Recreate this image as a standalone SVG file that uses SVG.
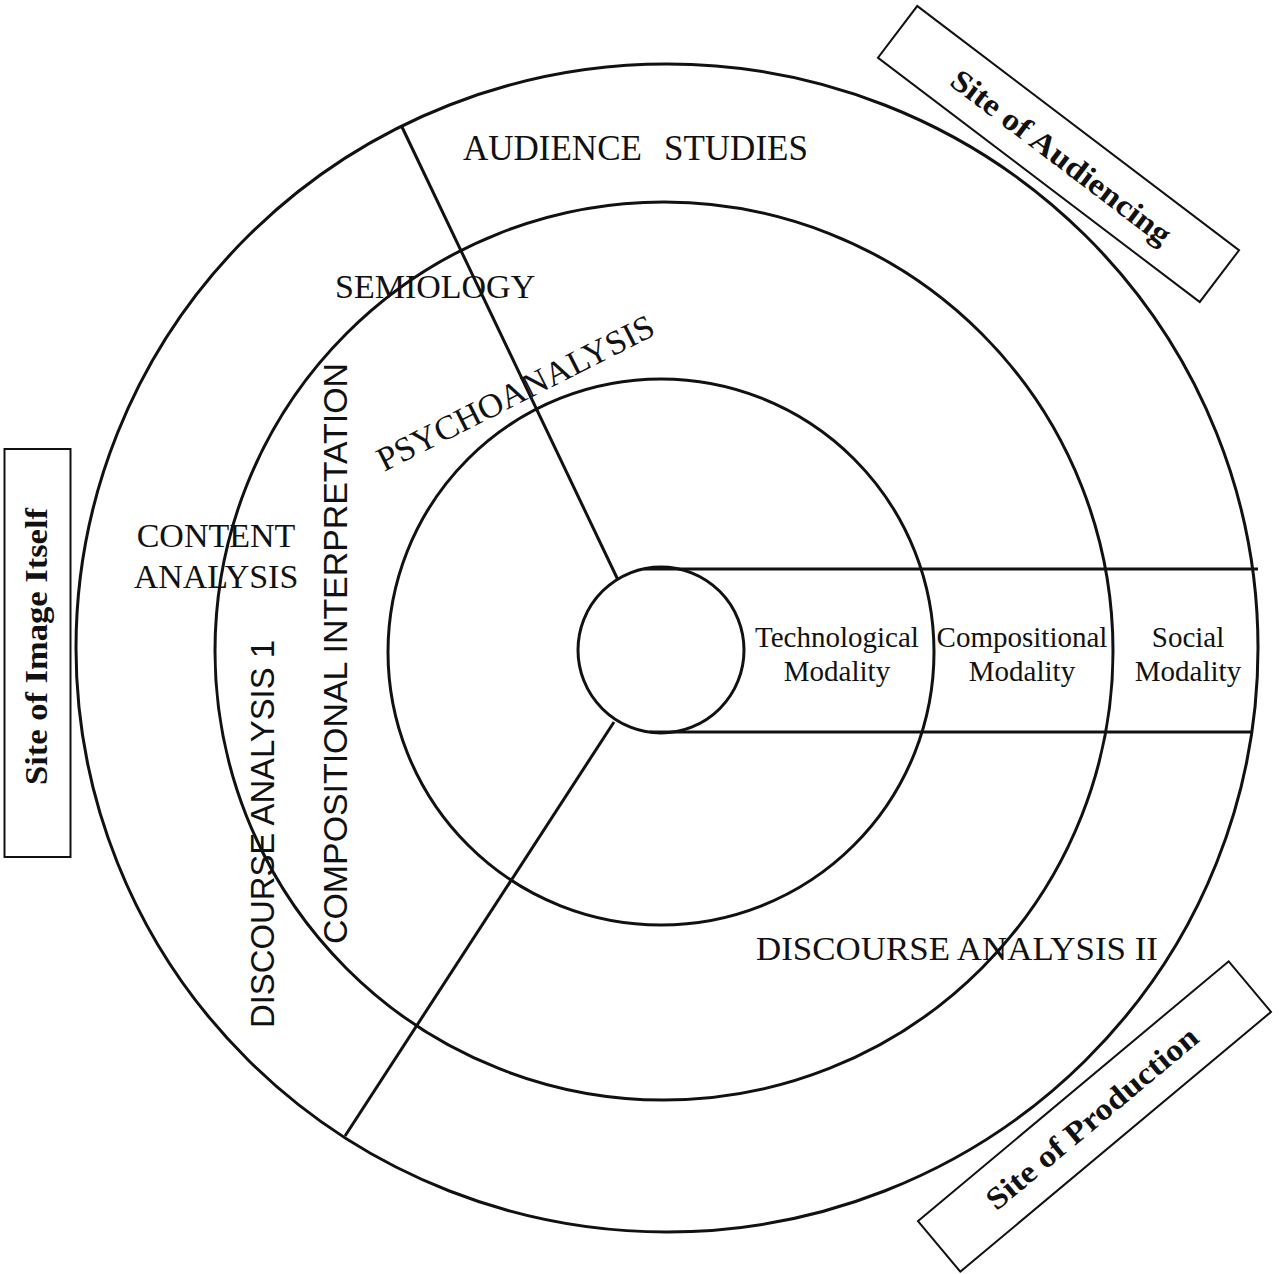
<svg xmlns="http://www.w3.org/2000/svg" width="1280" height="1274" viewBox="0 0 1280 1274">
<style>
.ln{fill:none;stroke:#111;stroke-width:3}
.bx{fill:none;stroke:#111;stroke-width:2}
.serif{font-family:"Liberation Serif","Times New Roman",serif;fill:#111}
.sans{font-family:"Liberation Sans",Arial,sans-serif;fill:#111}
.big{font-size:34px}
.mod{font-size:29px}
.site{font-family:"Liberation Serif","Times New Roman",serif;font-weight:bold;font-size:31px;fill:#111}
</style>
<rect width="1280" height="1274" fill="#fff"/>
<g id="rings">
<ellipse id="ring-outer" class="ln" cx="667" cy="648" rx="591" ry="584"/>
<circle id="ring-2" class="ln" cx="664" cy="651" r="449"/>
<circle id="ring-3" class="ln" cx="661" cy="652" r="273"/>
<circle id="ring-core" class="ln" cx="661" cy="650" r="83"/>
</g>
<g id="connectors">
<line class="ln" x1="402" y1="127" x2="618" y2="580"/>
<line class="ln" x1="614" y1="722" x2="345" y2="1136"/>
<line class="ln" x1="644" y1="569" x2="1258" y2="569"/>
<line class="ln" x1="650" y1="732" x2="1252" y2="732"/>
</g>
<g id="labels">
<text class="serif" font-size="35" y="160"><tspan x="463">AUDIENCE</tspan><tspan x="664">STUDIES</tspan></text>
<text class="serif big" x="335" y="298">SEMIOLOGY</text>
<text class="serif big" textLength="306" lengthAdjust="spacingAndGlyphs" transform="translate(384,472) rotate(-26.8)">PSYCHOANALYSIS</text>
<text class="serif big" text-anchor="middle" x="216" y="547">CONTENT</text>
<text class="serif big" text-anchor="middle" x="216" y="588">ANALYSIS</text>
<text class="sans" font-size="33" textLength="581" lengthAdjust="spacingAndGlyphs" transform="translate(347,944) rotate(-90)">COMPOSITIONAL INTERPRETATION</text>
<text class="sans" font-size="32.5" textLength="388" lengthAdjust="spacingAndGlyphs" transform="translate(274,1028) rotate(-90)">DISCOURSE ANALYSIS 1</text>
<text class="serif" font-size="34.5" x="756" y="960" textLength="402" lengthAdjust="spacingAndGlyphs">DISCOURSE ANALYSIS II</text>
</g>
<g id="modalities">
<g id="technological">
<text class="serif mod" text-anchor="middle" x="837" y="647">Technological</text>
<text class="serif mod" text-anchor="middle" x="837" y="681">Modality</text>
</g>
<g id="compositional">
<text class="serif mod" text-anchor="middle" x="1022" y="647">Compositional</text>
<text class="serif mod" text-anchor="middle" x="1022" y="681">Modality</text>
</g>
<g id="social">
<text class="serif mod" text-anchor="middle" x="1188" y="647">Social</text>
<text class="serif mod" text-anchor="middle" x="1188" y="681">Modality</text>
</g>
</g>
<g id="site-image">
<rect class="bx" x="4.5" y="449" width="66" height="408"/>
<text class="site" text-anchor="middle" textLength="277" lengthAdjust="spacingAndGlyphs" transform="translate(47,646.5) rotate(-90)">Site of Image Itself</text>
</g>
<g id="site-audiencing" transform="translate(1058.5,154) rotate(37.2)">
<rect class="bx" x="-202" y="-32.5" width="404" height="65"/>
<text class="site" text-anchor="middle" x="4" y="11" textLength="268" lengthAdjust="spacingAndGlyphs">Site of Audiencing</text>
</g>
<g id="site-production" transform="translate(1094.5,1116.5) rotate(-39.9)">
<rect class="bx" x="-202.5" y="-33" width="405" height="66"/>
<text class="site" text-anchor="middle" x="-3" y="10" textLength="266" lengthAdjust="spacingAndGlyphs">Site of Production</text>
</g>
</svg>
